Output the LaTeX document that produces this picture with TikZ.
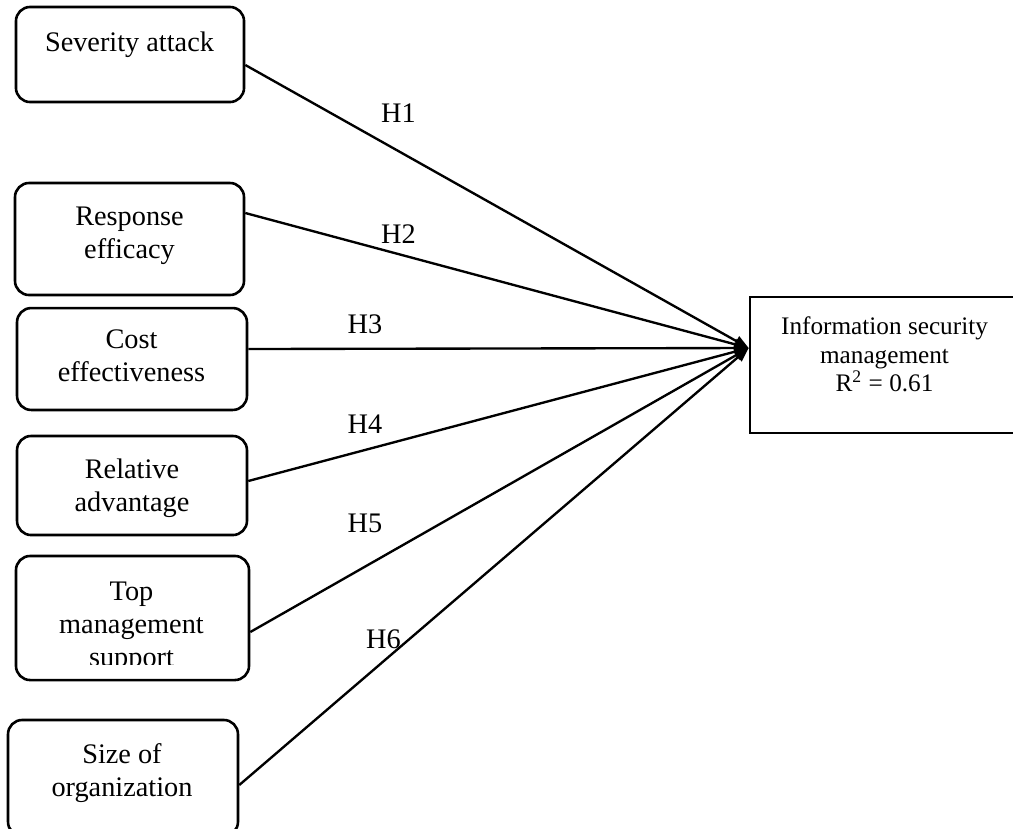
\documentclass[tikz,border=0pt]{standalone}
\usepackage{fontspec}
\setmainfont{Liberation Serif}
\usetikzlibrary{positioning,arrows.meta,calc}

\begin{document}
\begin{tikzpicture}[
	x=0.424pt, y=-0.424pt,
	varbox/.style={draw, rounded corners=6pt, line width=1.1pt, inner sep=0pt},
	depbox/.style={draw, line width=1.1pt, inner sep=0pt},
	boxtext/.style={align=center, inner sep=0pt, anchor=north,
			font=\fontsize{12}{14}\selectfont},
	deptext/.style={align=center, inner sep=0pt, anchor=north,
			font=\fontsize{10.7}{12.1}\selectfont},
	hyp/.style={line width=1pt, -{Triangle[length=6pt,width=4.6pt]}},
	hlabel/.style={anchor=base, inner sep=0pt, font=\fontsize{12}{14}\selectfont}
]
	\clip (0,0) rectangle (1013,828);
	%% predictors
	\node[varbox, minimum width=96.7pt, minimum height=40.3pt] (sa) at (130,54.5) {};
	\node[varbox, minimum width=97.1pt, minimum height=47.5pt] (re) at (129.5,239) {};
	\node[varbox, minimum width=97.5pt, minimum height=43.2pt] (ce) at (132,359) {};
	\node[varbox, minimum width=97.5pt, minimum height=42pt] (ra) at (132,485.5) {};
	\node[varbox, minimum width=98.8pt, minimum height=52.6pt] (tms) at (132.5,618) {};
	\node[varbox, minimum width=97.5pt, minimum height=49.2pt] (so) at (123,778) {};
	% texts of the boxes
	\node[boxtext] (sa-t) at (129.5,31) {Severity attack};
	\node[boxtext] (re-t) at (129.5,206) {Response\\efficacy};
	\node[boxtext] (ce-t) at (131.5,329) {Cost\\effectiveness};
	\node[boxtext] (ra-t) at (132,458) {Relative\\advantage};
	\begin{scope}
		\clip (0,556) rectangle (1013,664);
		\node[boxtext] (tms-t) at (131.5,581) {Top\\management\\support};
	\end{scope}
	\node[boxtext] (so-t) at (122,743) {Size of\\organization};
	%% dependent
	\node[depbox, minimum width=114.5pt, minimum height=57.7pt] (ism) at (885,365) {};
	\node[deptext] (ism-t) at (884.5,316.5) {Information security\\management\\R\textsuperscript{2} = 0.61};
	\coordinate (tip) at ($(ism.west)+(0,-17)$);
	% hypotheses
	\draw[hyp] ($(sa.east)+(0,10.5)$) -- (tip);
	\draw[hyp] ($(re.east)+(0,-26)$) -- (tip);
	\draw[hyp] ($(ce.east)+(0,-10)$) -- (tip);
	\draw[hyp] ($(ra.east)+(0,-4.5)$) -- (tip);
	\draw[hyp] ($(tms.east)+(0,14)$) -- (tip);
	\draw[hyp] ($(so.east)+(0,7)$) -- (tip);
	\node[hlabel] (h1) at (398.5,122) {H1};
	\node[hlabel] (h2) at (398.5,243) {H2};
	\node[hlabel] (h3) at (365,333) {H3};
	\node[hlabel] (h4) at (365,433) {H4};
	\node[hlabel] (h5) at (365,532) {H5};
	\node[hlabel] (h6) at (383.5,648) {H6};
\end{tikzpicture}
\end{document}
